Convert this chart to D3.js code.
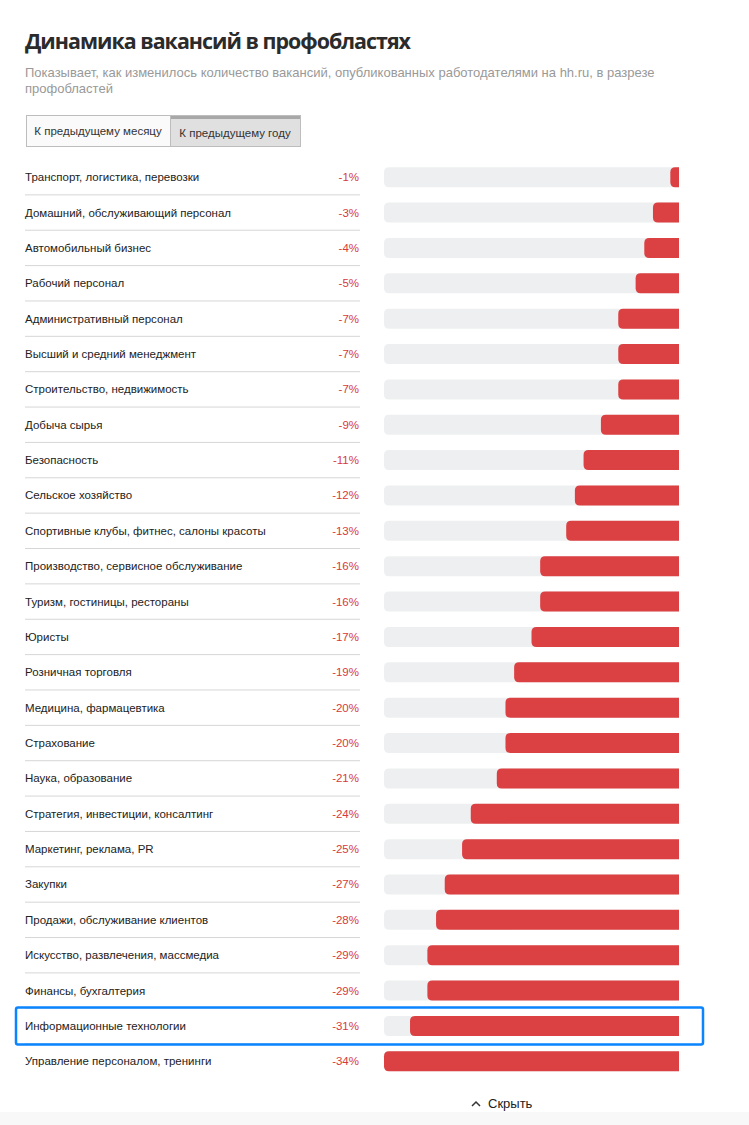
<!DOCTYPE html>
<html><head><meta charset="utf-8">
<script src="https://cdn.jsdelivr.net/npm/d3@7"></script>
<style>
body{margin:0;background:#fff;font-family:"Liberation Sans",Arial,sans-serif;}
svg{display:block;}
</style></head>
<body>
<svg id="chart" width="749" height="1125"></svg>
<script>
// categories and values (year-over-year change, %)
const categories = [
  "Транспорт, логистика, перевозки","Домашний, обслуживающий персонал","Автомобильный бизнес",
  "Рабочий персонал","Административный персонал","Высший и средний менеджмент",
  "Строительство, недвижимость","Добыча сырья","Безопасность","Сельское хозяйство",
  "Спортивные клубы, фитнес, салоны красоты","Производство, сервисное обслуживание",
  "Туризм, гостиницы, рестораны","Юристы","Розничная торговля","Медицина, фармацевтика",
  "Страхование","Наука, образование","Стратегия, инвестиции, консалтинг",
  "Маркетинг, реклама, PR","Закупки","Продажи, обслуживание клиентов",
  "Искусство, развлечения, массмедиа","Финансы, бухгалтерия","Информационные технологии",
  "Управление персоналом, тренинги"
];
const values = [-1,-3,-4,-5,-7,-7,-7,-9,-11,-12,-13,-16,-16,-17,-19,-20,-20,-21,-24,-25,-27,-28,-29,-29,-31,-34];
const highlighted = "Информационные технологии";
const tabs = ["К предыдущему месяцу","К предыдущему году"];

const svg = d3.select("#chart");
svg.append("rect").attr("x",0).attr("y",1112).attr("width",749).attr("height",13).attr("fill","#f8f8f8");

svg.append("text").attr("x",25).attr("y",49).attr("font-size",21.5).attr("font-weight",700)
  .attr("fill","#2b2b2b").attr("font-family","'Open Sans',sans-serif").attr("letter-spacing",-1)
  .attr("textLength",385).attr("lengthAdjust","spacingAndGlyphs")
  .text("Динамика вакансий в профобластях");
svg.append("text").attr("x",25).attr("y",77).attr("font-size",13).attr("fill","#999")
  .text("Показывает, как изменилось количество вакансий, опубликованных работодателями на hh.ru, в разрезе");
svg.append("text").attr("x",25).attr("y",93).attr("font-size",13).attr("fill","#999").text("профобластей");

// tabs
const tabX = [26,170], tabW = [144,130];
tabs.forEach((t,i)=>{
  const g = svg.append("g");
  g.append("rect").attr("x",tabX[i]+0.5).attr("y",115.5).attr("width",tabW[i]).attr("height",31)
    .attr("fill", i ? "#e0e0e0" : "#fafafa").attr("stroke","#bdbdbd");
  if(i) g.append("rect").attr("x",tabX[i]+1).attr("y",116).attr("width",tabW[i]-1).attr("height",3).attr("fill","#a8a8a8");
  g.append("text").attr("x",tabX[i]+tabW[i]/2).attr("y", i?137:135).attr("text-anchor","middle")
    .attr("font-size",11.5).attr("fill","#333").text(t);
});

const y = d3.scaleBand().domain(categories).range([159.5,1079]).padding(0);
const x = d3.scaleLinear().domain([0,d3.max(values,v=>-v)]).range([0,295]);
const x0 = 384, x1 = 679, barH = 20;

const rows = svg.append("g").selectAll("g").data(categories).join("g")
  .attr("transform",d=>`translate(0,${y(d)+y.bandwidth()/2})`);

rows.append("text").attr("x",25).attr("y",4).attr("font-size",11.5).attr("fill","#222").text(d=>d);
rows.append("text").attr("x",359).attr("y",4).attr("text-anchor","end").attr("font-size",11.5)
  .attr("fill","#d83a3a").text((d,i)=>values[i]+"%");
rows.filter((d,i)=>i<categories.length-1).append("line")
  .attr("x1",25).attr("x2",360).attr("y1",y.bandwidth()/2).attr("y2",y.bandwidth()/2)
  .attr("stroke","#d6d6d6");

function leftRounded(xl, w, h, r){
  r = Math.min(r, w);
  return `M${xl+r},${-h/2}H${xl+w}V${h/2}H${xl+r}Q${xl},${h/2} ${xl},${h/2-r}V${-h/2+r}Q${xl},${-h/2} ${xl+r},${-h/2}Z`;
}
rows.append("path").attr("d",leftRounded(x0,x1-x0,barH,5)).attr("fill","#eeeff0");
rows.append("path").attr("d",(d,i)=>{const w=x(-values[i]);return leftRounded(x1-w,w,barH,5);})
  .attr("fill","#db4043");

// highlight box
const hy = y(highlighted)+y.bandwidth()/2;
svg.append("rect").attr("x",16).attr("y",hy-18.5).attr("width",687).attr("height",37)
  .attr("rx",2).attr("fill","none").attr("stroke","#0a84ff").attr("stroke-width",2.5);

// hide link
svg.append("path").attr("d","M472,1106 l4,-4 l4,4").attr("fill","none").attr("stroke","#333").attr("stroke-width",1.5);
svg.append("text").attr("x",488).attr("y",1108).attr("font-size",13).attr("fill","#222").text("Скрыть");
</script>
</body></html>
